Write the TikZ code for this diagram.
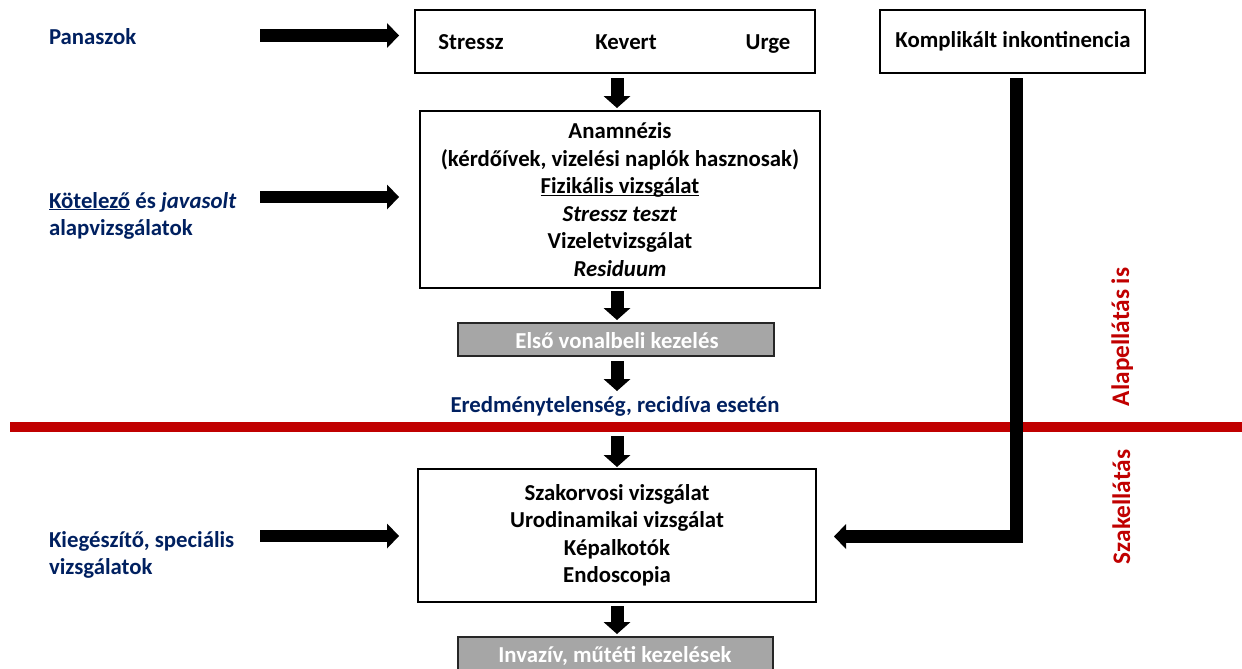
\documentclass[tikz,border=0pt]{standalone}
\usepackage{fontspec}
\setmainfont{Carlito}
\usetikzlibrary{arrows.meta}
\definecolor{navy}{HTML}{002060}
\definecolor{darkred}{HTML}{C00000}
\definecolor{greyfill}{HTML}{A6A6A6}
\newcommand{\myul}[1]{\setbox0\hbox{#1}\rlap{\rule[-2.4pt]{\wd0}{1.3pt}}\box0\relax}
\begin{document}
\begin{tikzpicture}[x=1pt,y=-1pt,
  every node/.style={font=\fontsize{22.8}{27.5}\selectfont\bfseries, inner sep=0pt, outer sep=0pt},
  box/.style={draw=black, line width=1.2pt, fill=white, align=center},
  greybox/.style={draw=black!85, line width=1.2pt, fill=greyfill, text=white},
  lbl/.style={text=navy, anchor=base west},
  txt/.style={anchor=base},
  sidelbl/.style={text=darkred, rotate=90, anchor=base west, font=\fontsize{25.3}{30}\selectfont\bfseries},
  blk/.style={line width=13pt, -{Triangle[length=12pt,width=27pt,line width=0pt]}},
  blkh/.style={line width=12.5pt, line join=miter, -{Triangle[length=12pt,width=25pt,line width=0pt]}}
]
\useasboundingbox (0,0) rectangle (1242,669);

% boxes
\node[box, minimum width=400pt, minimum height=63pt] (top) at (615,41.5) {};
\node[txt] (stressz) at (471,49) {Stressz};
\node[txt] (kevert) at (626,49) {Kevert};
\node[txt] (urge) at (768,49) {Urge};

\node[box, minimum width=265pt, minimum height=63pt] (komp) at (1012.5,41.5) {};
\node[txt] (komptxt) at (1013,48) {Komplikált inkontinencia};

\node[box, minimum width=400pt, minimum height=177pt] (box2) at (620,199.5)
  {Anamnézis\\(kérdőívek, vizelési naplók hasznosak)\\\myul{Fizikális vizsgálat}\\\textit{Stressz teszt}\\Vizeletvizsgálat\\\textit{Residuum}};

\node[greybox, minimum width=316pt, minimum height=33pt] (grey1) at (616,339.5) {};
\node[txt, text=white] (grey1txt) at (617,348) {Első vonalbeli kezelés};

\node[txt, text=navy] (ered) at (615,412) {Eredménytelenség, recidíva esetén};

\draw[darkred, line width=10pt] (10,427) -- (1242,427);

\node[box, minimum width=398pt, minimum height=133pt] (box3) at (617,535.5)
  {Szakorvosi vizsgálat\\Urodinamikai vizsgálat\\Képalkotók\\Endoscopia};

\node[greybox, minimum width=315pt, minimum height=36pt] (grey2) at (615.5,655) {};
\node[txt, text=white] (grey2txt) at (615,662) {Invazív, műtéti kezelések};

% left labels
\node[lbl] (pan) at (49,45) {Panaszok};
\node[lbl] (kot1) at (49,208) {\myul{Kötelező} és \textit{javasolt}};
\node[lbl] (kot2) at (49,235) {alapvizsgálatok};
\node[lbl] (kieg1) at (49,547) {Kiegészítő, speciális};
\node[lbl] (kieg2) at (49,574) {vizsgálatok};

% side labels
\node[sidelbl] (alap) at (1129,406) {Alapellátás is};
\node[sidelbl] (szak) at (1130,564) {Szakellátás};

% horizontal arrows
\coordinate (pa) at (260,35.5);
\coordinate (ka) at (260,197);
\coordinate (ga) at (260,536);
\draw[blkh, shorten >=16pt] (pa) -- (pa -| top.west);
\draw[blkh, shorten >=21pt] (ka) -- (ka -| box2.west);
\draw[blkh, shorten >=19pt] (ga) -- (ga -| box3.west);

% vertical arrows
\coordinate (a3) at (617,391);
\coordinate (a4) at (617,436);
\draw[blk, shorten <=5pt, shorten >=3pt] ([xshift=2pt]top.south) -- ([xshift=2pt]top.south |- box2.north);
\draw[blk, shorten <=3pt, shorten >=3pt] ([xshift=-3pt]box2.south) -- ([xshift=-3pt]box2.south |- grey1.north);
\draw[blk, shorten <=5pt] ([xshift=1pt]grey1.south) -- (a3);
\draw[blk, shorten >=2pt] (a4) -- (a4 |- box3.north);
\draw[blk, shorten <=4pt, shorten >=3pt] (box3.south) -- (box3.south |- grey2.north);

% komplikalt connector
\draw[blkh, shorten <=5pt, shorten >=18pt] ([xshift=4pt]komp.south) |- ([yshift=-1pt]box3.east);
\end{tikzpicture}
\end{document}
